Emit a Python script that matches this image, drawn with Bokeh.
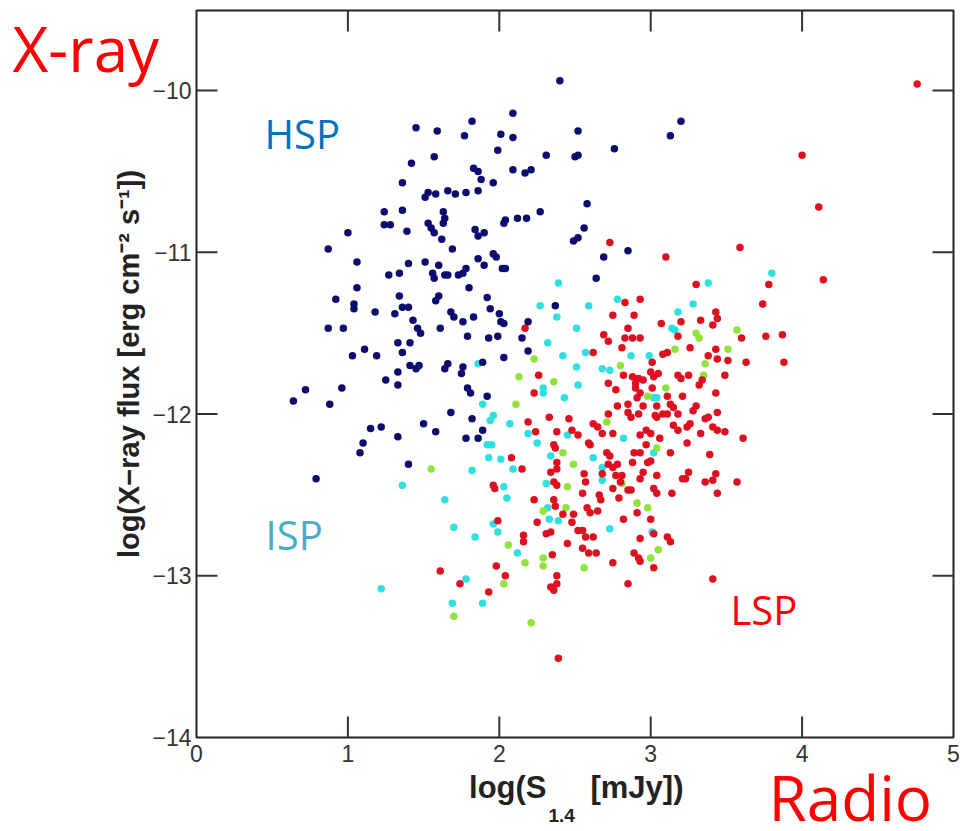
from bokeh.plotting import figure
from bokeh.models import Range1d, Label
from bokeh.core.properties import value
from bokeh.embed import file_html
from bokeh.resources import INLINE

# ---- data: (log S_1.4 [mJy], log X-ray flux) ----
HSP = [(2.40,-9.94),(2.09,-10.14),(1.82,-10.19),(1.45,-10.23),(1.59,-10.25),(1.77,-10.28),(2.01,-10.27),(2.09,-10.29),(2.52,-10.25),(1.99,-10.37),(1.57,-10.41),(2.31,-10.40),(2.50,-10.41),(2.52,-10.40),
(1.42,-10.45),(1.83,-10.48),(1.86,-10.50),(2.09,-10.49),(2.17,-10.51),(2.21,-10.49),(1.88,-10.55),(1.96,-10.57),(1.36,-10.57),(1.53,-10.63),(1.51,-10.66),(1.58,-10.64),(1.66,-10.62),(1.71,-10.64),(1.78,-10.63),(1.86,-10.62),(1.24,-10.75),(1.36,-10.74),(1.63,-10.75),(2.27,-10.75),(1.24,-10.83),(1.28,-10.83),(1.39,-10.87),(1.53,-10.82),(1.55,-10.85),(1.57,-10.88),(1.63,-10.82),(1.64,-10.79),(1.84,-10.86),(1.86,-10.90),(1.90,-10.88),(2.03,-10.82),(2.04,-10.80),(2.12,-10.79),(2.18,-10.79),(1.00,-10.88),(1.62,-10.92),(2.49,-10.93),(2.52,-10.91),(0.87,-10.98),(1.69,-10.98),(1.96,-11.01),(1.98,-11.03),(1.06,-11.06),(1.40,-11.07),(1.51,-11.06),(1.60,-11.08),(1.86,-11.04),(1.90,-11.08),(1.27,-11.14),(1.34,-11.13),(1.56,-11.13),(1.57,-11.16),(1.64,-11.14),(1.66,-11.14),(1.73,-11.14),(1.76,-11.13),(1.78,-11.10),(2.02,-11.10),(2.04,-11.10),(1.06,-11.22),(1.34,-11.27),(1.60,-11.27),(1.80,-11.22),(1.92,-11.28),(0.92,-11.29),(2.76,-10.36),(3.13,-10.28),(3.20,-10.19),(2.58,-10.70),(2.56,-10.85),(2.69,-11.03),(2.85,-10.99),(2.64,-11.16),(1.04,-11.32),(1.04,-11.35),(1.18,-11.37),(1.36,-11.34),(1.40,-11.34),(1.31,-11.38),(1.58,-11.30),(1.68,-11.37),(1.70,-11.40),(1.43,-11.42),(1.46,-11.47),(1.48,-11.50),(1.61,-11.47),(1.76,-11.43),(1.83,-11.40),(1.94,-11.35),(2.00,-11.38),(2.01,-11.43),(2.03,-11.44),(0.87,-11.47),(0.97,-11.47),(1.79,-11.52),(1.93,-11.53),(1.99,-11.52),(2.15,-11.53),(2.19,-11.43),(2.37,-11.33),(2.19,-11.61),(1.11,-11.60),(1.03,-11.64),(1.19,-11.64),(1.33,-11.56),(1.36,-11.62),(1.41,-11.56),(1.41,-11.70),(1.45,-11.72),(1.47,-11.70),(1.64,-11.72),(1.66,-11.69),(1.76,-11.71),(1.75,-11.75),(2.03,-11.65),(1.89,-11.68),(1.33,-11.74),(1.25,-11.79),(1.33,-11.82),(1.79,-11.84),(1.81,-11.87),(1.92,-11.89),(0.72,-11.85),(0.96,-11.84),(0.64,-11.92),(0.88,-11.94),(1.68,-11.99),(1.82,-12.03),(1.50,-12.06),(1.15,-12.09),(1.22,-12.08),(1.58,-12.11),(1.33,-12.14),(1.10,-12.18),(1.78,-12.15),(1.86,-12.15),(1.89,-12.10),(1.08,-12.24),(1.40,-12.31),(0.79,-12.40)]

ISP = [(2.39,-11.19),(2.27,-11.33),(2.59,-11.33),(2.38,-11.40),(2.51,-11.47),(2.32,-11.56),(2.42,-11.64),(2.57,-11.62),(2.51,-11.71),(2.68,-11.72),(2.73,-11.73),(2.29,-11.84),(2.29,-11.87),(2.52,-11.82),(2.43,-11.90),(1.89,-11.94),(1.96,-12.01),(1.94,-12.04),(2.07,-12.06),(2.19,-12.12),(1.86,-11.69),(2.78,-11.29),(1.92,-12.19),(1.95,-12.19),(2.25,-12.18),(1.93,-12.27),(2.01,-12.28),(2.09,-12.34),(1.82,-12.35),(2.03,-12.45),(2.05,-12.52),(2.34,-12.26),(2.31,-12.43),(2.62,-12.27),(2.68,-12.33),(2.68,-12.41),(2.32,-12.58),(2.33,-12.65),(2.39,-12.66),(1.70,-12.70),(1.84,-12.76),(1.99,-12.73),(2.12,-12.86),(2.73,-12.71),(1.78,-13.02),(1.89,-13.17),(1.69,-13.17),(1.96,-12.68),(1.22,-13.08),(1.36,-12.44),(1.64,-12.53),(3.38,-11.19),(3.80,-11.13),(3.28,-11.32),(3.18,-11.37),(3.14,-11.47),(3.16,-11.48),(2.87,-11.64),(2.99,-11.64),(3.02,-11.90),(3.04,-11.90),(2.82,-12.15),(3.02,-12.24),(3.01,-12.73),(2.45,-12.13)]

ISP_G = [(2.13,-11.77),(2.36,-11.80),(2.11,-11.94),(2.71,-12.05),(2.23,-11.66),(2.42,-12.24),(2.49,-12.31),(2.45,-12.45),(2.29,-12.60),(2.06,-12.81),(2.17,-12.92),(2.29,-12.89),(2.29,-12.94),(2.03,-13.05),(2.56,-12.95),(2.21,-13.29),(1.70,-13.25),(2.44,-12.58),(1.55,-12.34),(3.30,-11.50),(3.32,-11.53),(3.57,-11.48),(3.16,-11.60),(3.51,-11.60),(3.36,-11.69),(2.80,-11.70),(3.10,-11.84),(2.98,-11.89),(3.35,-11.76),(2.91,-12.55),(2.98,-12.58),(3.05,-12.84),(3.00,-12.89),(3.04,-12.21),(2.81,-12.43)]

LSP = [(4.76,-9.96),(4.00,-10.40),(4.11,-10.72),(3.59,-10.97),(3.10,-11.03),(2.73,-10.94),(3.30,-11.20),(3.78,-11.20),(4.14,-11.17),(2.75,-11.39),(2.69,-11.51),(2.72,-11.55),(2.62,-11.62),(2.17,-11.47),(2.26,-11.76),(2.23,-11.87),(2.72,-11.81),(2.77,-11.85),(2.78,-11.95),(2.33,-12.02),(2.46,-12.03),(2.19,-12.05),(2.24,-12.11),(2.38,-12.11),(2.48,-12.10),(2.52,-12.13),(2.62,-12.06),(2.65,-12.08),(2.72,-12.00),(2.75,-12.12),(2.68,-12.12),(2.08,-12.27),(2.15,-12.34),(1.96,-12.44),(1.97,-12.46),(2.23,-12.53),(2.36,-12.19),(2.37,-12.21),(2.38,-12.30),(2.34,-12.36),(2.38,-12.34),(2.36,-12.42),(2.38,-12.44),(2.36,-12.53),(2.37,-12.57),(2.42,-12.62),(2.49,-12.62),(2.25,-12.67),(2.59,-12.18),(2.60,-12.19),(2.71,-12.24),(2.73,-12.26),(2.56,-12.37),(2.57,-12.42),(2.55,-12.49),(2.66,-12.50),(2.67,-12.53),(2.75,-12.46),(2.58,-12.58),(2.60,-12.61),(2.65,-12.60),(2.48,-12.67),(2.55,-12.72),(2.52,-12.72),(2.31,-12.74),(2.34,-12.73),(2.16,-12.75),(2.16,-12.79),(2.45,-12.80),(2.57,-12.76),(2.62,-12.76),(2.55,-12.83),(2.59,-12.86),(2.64,-12.86),(1.99,-12.66),(2.35,-12.87),(2.75,-12.92),(1.98,-12.94),(2.04,-13.00),(2.38,-13.00),(2.38,-13.05),(2.34,-13.07),(2.36,-13.09),(1.74,-13.05),(1.93,-13.10),(2.83,-11.31),(2.93,-11.29),(3.74,-11.32),(2.89,-11.39),(3.07,-11.44),(3.20,-11.43),(3.33,-11.42),(3.43,-11.37),(3.44,-11.41),(3.41,-11.45),(2.85,-11.47),(2.83,-11.53),(2.88,-11.53),(2.93,-11.53),(3.18,-11.52),(3.60,-11.53),(3.76,-11.52),(3.87,-11.51),(2.81,-11.59),(3.26,-11.59),(3.43,-11.60),(3.08,-11.63),(3.11,-11.62),(3.01,-11.68),(3.38,-11.64),(3.44,-11.66),(3.51,-11.67),(3.63,-11.68),(3.88,-11.68),(2.82,-11.76),(2.88,-11.77),(2.92,-11.78),(2.95,-11.79),(2.90,-11.81),(3.00,-11.74),(3.02,-11.77),(3.05,-11.75),(3.18,-11.76),(3.20,-11.78),(3.25,-11.76),(3.49,-11.76),(3.32,-11.82),(3.34,-11.79),(2.90,-11.84),(2.93,-11.87),(3.01,-11.84),(3.11,-11.89),(3.21,-11.89),(3.43,-11.87),(2.85,-11.94),(2.91,-11.90),(2.95,-11.95),(3.04,-11.95),(3.13,-11.94),(3.15,-11.96),(3.08,-12.00),(3.11,-12.00),(3.18,-12.00),(3.30,-11.95),(3.28,-11.98),(3.44,-11.99),(3.38,-12.02),(3.36,-12.03),(2.85,-11.99),(2.87,-12.02),(2.92,-12.00),(3.03,-12.01),(3.04,-12.02),(3.15,-12.07),(3.18,-12.10),(3.26,-12.06),(3.24,-12.08),(3.41,-12.08),(3.44,-12.10),(3.49,-12.11),(3.33,-12.12),(3.61,-12.15),(3.06,-12.15),(2.97,-12.10),(3.00,-12.12),(2.93,-12.13),(3.57,-12.42),(3.43,-12.37),(3.36,-12.42),(3.41,-12.41),(3.44,-12.49),(3.25,-12.36),(3.23,-12.40),(3.21,-12.40),(3.04,-12.38),(2.93,-12.40),(3.14,-12.49),(3.02,-12.46),(3.04,-12.49),(2.87,-12.47),(2.85,-12.47),(2.79,-12.52),(2.68,-12.37),(2.75,-12.33),(2.78,-12.31),(2.72,-12.31),(2.81,-12.38),(2.80,-12.42),(2.93,-12.24),(2.98,-12.30),(3.00,-12.29),(2.97,-12.19),(2.89,-12.24),(2.88,-12.30),(3.13,-12.24),(3.24,-12.18),(3.39,-12.25),(2.82,-12.65),(2.91,-12.61),(3.00,-12.65),(2.93,-12.77),(3.11,-12.76),(3.13,-12.79),(3.02,-12.74),(2.89,-12.86),(2.92,-12.89),(3.02,-12.95),(3.41,-13.02),(2.85,-13.05),(2.93,-12.91),(2.39,-13.51),(1.61,-12.97),(2.77,-12.38),(2.95,-12.36)]

X_LIM = (0, 5)
Y_LIM = (-14, -9.505)
X_TICKS = [0, 1, 2, 3, 4, 5]
Y_TICKS = [-14, -13, -12, -11, -10]
X_TICK_LABELS = ["0", "1", "2", "3", "4", "5"]
Y_TICK_LABELS = ["\u221214", "\u221213", "\u221212", "\u221211", "\u221210"]

# canvas-wide frame so that the outer titles are not clipped
PX_X = 151.4    # pixels per x unit
PX_Y = 161.75   # pixels per y unit
W, H = 960, 831
x0 = X_LIM[0] - 196 / PX_X
y1 = -10 + 90 / PX_Y
p = figure(width=W, height=H,
           x_range=Range1d(x0, x0 + W / PX_X), y_range=Range1d(y1 - H / PX_Y, y1),
           output_backend="svg", toolbar_location=None, min_border=0,
           x_axis_location=None, y_axis_location=None)
p.grid.visible = False
p.outline_line_color = None
p.background_fill_color = "white"
p.border_fill_color = "white"

# plot box
p.quad(left=[X_LIM[0]], right=[X_LIM[1]], bottom=[Y_LIM[0]], top=[Y_LIM[1]],
       fill_color=None, line_color="#222222", line_width=2)

# inward ticks on all four sides (21 px)
tx = 21 / PX_X
ty = 21 / PX_Y
inner_x = X_TICKS[1:-1]
inner_y = Y_TICKS[1:]
p.segment(x0=inner_x, y0=[Y_LIM[0]] * 4, x1=inner_x, y1=[Y_LIM[0] + ty] * 4, line_color="#333333", line_width=2)
p.segment(x0=inner_x, y0=[Y_LIM[1]] * 4, x1=inner_x, y1=[Y_LIM[1] - ty] * 4, line_color="#333333", line_width=2)
p.segment(x0=[X_LIM[0]] * 4, y0=inner_y, x1=[X_LIM[0] + tx] * 4, y1=inner_y, line_color="#333333", line_width=2)
p.segment(x0=[X_LIM[1]] * 4, y0=inner_y, x1=[X_LIM[1] - tx] * 4, y1=inner_y, line_color="#333333", line_width=2)

# tick labels
p.text(x=X_TICKS, y=[Y_LIM[0]] * 6, text=X_TICK_LABELS, text_align="center", text_baseline="top",
       y_offset=7, text_font=value("Liberation Sans"), text_font_size=value("23px"), text_color="#333333")
p.text(x=[X_LIM[0]] * 5, y=Y_TICKS, text=Y_TICK_LABELS, text_align="right", text_baseline="middle",
       x_offset=-5, text_font=value("Liberation Sans"), text_font_size=value("23px"), text_color="#333333")

def xs(pts): return [a for a, b in pts]
def ys(pts): return [b for a, b in pts]

p.scatter(xs(ISP), ys(ISP), size=7.5, fill_color="#2fe0e0", line_color=None)
p.scatter(xs(ISP_G), ys(ISP_G), size=7.5, fill_color="#92e23c", line_color=None)
p.scatter(xs(LSP), ys(LSP), size=7.5, fill_color="#de1020", line_color=None)
p.scatter(xs(HSP), ys(HSP), size=7.5, fill_color="#0c0c6e", line_color=None)

def lab(x, y, text, size, color, font="Open Sans", style_="normal", **kw):
    p.add_layout(Label(x=x, y=y, text=text, text_font=font, text_font_size=size,
                       text_color=color, text_font_style=style_, **kw))

lab(-1.215, -9.735, "X-ray", "62px", "#ff0000", text_baseline="alphabetic")
lab(3.778, -14.37, "Radio", "62px", "#ff0000", text_baseline="alphabetic")
lab(0.449, -10.266, "HSP", "40px", "#0070c0", text_baseline="alphabetic")
lab(0.456, -12.745, "ISP", "40px", "#4bacc6", text_baseline="alphabetic")
lab(3.527, -13.208, "LSP", "40px", "#ff0000", text_baseline="alphabetic")

# axis titles
lab(2.312, -14.31, "log(S", "31px", "#222222", font="Liberation Sans", style_="bold",
    text_baseline="alphabetic", text_align="right")
lab(2.325, -14.481, "1.4", "19px", "#222222", font="Liberation Sans", style_="bold",
    text_baseline="alphabetic", text_align="left")
lab(2.602, -14.31, "[mJy])", "31px", "#222222", font="Liberation Sans", style_="bold",
    text_baseline="alphabetic", text_align="left")
lab(-0.449, -11.691, "log(X\u2212ray flux [erg cm\u207b\u00b2 s\u207b\u00b9])", "29px", "#222222",
    font="Liberation Sans", style_="bold", text_baseline="alphabetic", text_align="center",
    angle=1.5708)

open("out.html", "w").write(file_html(p, INLINE))
